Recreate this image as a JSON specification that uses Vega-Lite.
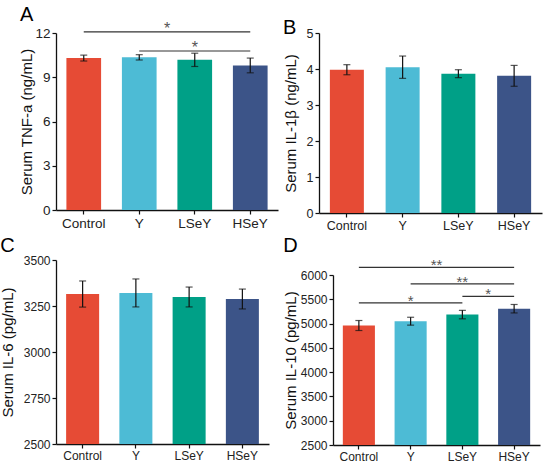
{
  "$schema": "https://vega.github.io/schema/vega-lite/v6.json",
  "padding": {"left": 0, "top": 4, "right": 4, "bottom": 0},
  "config": {
    "font": "Liberation Sans",
    "view": {"stroke": null},
    "axis": {
      "grid": false,
      "domainColor": "#111",
      "domainWidth": 1.3,
      "tickColor": "#111",
      "tickSize": 4,
      "tickWidth": 1.2,
      "labelColor": "#222",
      "labelFontSize": 12,
      "titleColor": "#111",
      "titleFontSize": 15,
      "titleFontWeight": "normal",
      "labelPadding": 2,
      "titlePadding": 4
    },
    "title": {"anchor": "start", "frame": "bounds", "fontSize": 20, "fontWeight": "normal", "color": "#000", "offset": 0}
  },
  "datasets": {
    "bars": [
      {"panel": "A", "group": "Control", "value": 10.30, "err": 0.20},
      {"panel": "A", "group": "Y", "value": 10.35, "err": 0.18},
      {"panel": "A", "group": "LSeY", "value": 10.18, "err": 0.45},
      {"panel": "A", "group": "HSeY", "value": 9.80, "err": 0.50},
      {"panel": "B", "group": "Control", "value": 3.98, "err": 0.14},
      {"panel": "B", "group": "Y", "value": 4.05, "err": 0.31},
      {"panel": "B", "group": "LSeY", "value": 3.87, "err": 0.11},
      {"panel": "B", "group": "HSeY", "value": 3.81, "err": 0.29},
      {"panel": "C", "group": "Control", "value": 3315, "err": 71},
      {"panel": "C", "group": "Y", "value": 3321, "err": 76},
      {"panel": "C", "group": "LSeY", "value": 3299, "err": 54},
      {"panel": "C", "group": "HSeY", "value": 3288, "err": 54},
      {"panel": "D", "group": "Control", "value": 4960, "err": 103},
      {"panel": "D", "group": "Y", "value": 5049, "err": 81},
      {"panel": "D", "group": "LSeY", "value": 5185, "err": 87},
      {"panel": "D", "group": "HSeY", "value": 5306, "err": 87}
    ],
    "sig": [
      {"panel": "A", "id": "A1", "i": 0, "value": 12.07, "label": "*"},
      {"panel": "A", "id": "A1", "i": 3, "value": 12.07, "label": "*"},
      {"panel": "A", "id": "A2", "i": 1, "value": 10.78, "label": "*"},
      {"panel": "A", "id": "A2", "i": 3, "value": 10.78, "label": "*"},
      {"panel": "D", "id": "D1", "i": 0, "value": 6156, "label": "**"},
      {"panel": "D", "id": "D1", "i": 3, "value": 6156, "label": "**"},
      {"panel": "D", "id": "D2", "i": 1, "value": 5818, "label": "**"},
      {"panel": "D", "id": "D2", "i": 3, "value": 5818, "label": "**"},
      {"panel": "D", "id": "D3", "i": 2, "value": 5561, "label": "*"},
      {"panel": "D", "id": "D3", "i": 3, "value": 5561, "label": "*"},
      {"panel": "D", "id": "D4", "i": 0, "value": 5427, "label": "*"},
      {"panel": "D", "id": "D4", "i": 2, "value": 5427, "label": "*"}
    ]
  },
  "columns": 2,
  "align": "none",
  "spacing": {"row": 4, "column": 5},
  "concat": [
    {
      "title": {"text": "A", "fontWeight": "normal", "offset": -4},
      "width": 222,
      "height": 177,
      "encoding": {
        "y": {"field": "value", "type": "quantitative", "scale": {"domain": [0, 12], "nice": false},
          "axis": {"values": [0, 3, 6, 9, 12], "title": "Serum TNF-a (ng/mL)", "labelFontSize": 13.5, "titlePadding": 0}}
      },
      "layer": [
        {
          "data": {"name": "bars"},
          "transform": [{"filter": {"field": "panel", "equal": "A"}}],
          "encoding": {
            "x": {"field": "group", "type": "nominal", "sort": null,
              "scale": {"paddingInner": 0.375, "paddingOuter": 0.1875},
              "axis": {"title": null, "labelAngle": 0, "labelFontSize": 13.5}}
          },
          "layer": [
            {"mark": {"type": "bar", "clip": true},
              "encoding": {"color": {"field": "group", "type": "nominal", "sort": null,
                "scale": {"domain": ["Control", "Y", "LSeY", "HSeY"], "range": ["#E64B35", "#4DBBD5", "#00A087", "#3C5488"]}, "legend": null}}},
            {"mark": {"type": "errorbar", "ticks": {"size": 7}, "color": "#111", "thickness": 1.2},
              "encoding": {"yError": {"field": "err"}}}
          ]
        },
        {
          "data": {"name": "sig"},
          "transform": [{"filter": {"field": "panel", "equal": "A"}}],
          "encoding": {
            "x": {"field": "i", "type": "quantitative", "scale": {"domain": [-0.5, 3.5], "nice": false, "zero": false}, "axis": null}
          },
          "layer": [
            {"mark": {"type": "line", "color": "#333", "strokeWidth": 1.2}, "encoding": {"detail": {"field": "id"}}},
            {"mark": {"type": "text", "color": "#555", "fontSize": 16, "baseline": "alphabetic", "dy": 2},
              "encoding": {
                "x": {"aggregate": "mean", "field": "i", "type": "quantitative"},
                "text": {"field": "label"},
                "detail": {"field": "id"}
              }}
          ]
        }
      ],
      "resolve": {"scale": {"x": "independent"}}
    },
    {
      "title": {"text": "B", "fontWeight": "normal", "offset": -11},
      "width": 223,
      "height": 180,
      "data": {"name": "bars"},
      "transform": [{"filter": {"field": "panel", "equal": "B"}}],
      "encoding": {
        "x": {"field": "group", "type": "nominal", "sort": null,
          "scale": {"paddingInner": 0.39, "paddingOuter": 0.195},
          "axis": {"title": null, "labelAngle": 0, "labelFontSize": 12.5}},
        "y": {"field": "value", "type": "quantitative", "scale": {"domain": [0, 5], "nice": false},
          "axis": {"values": [0, 1, 2, 3, 4, 5], "title": "Serum IL-1β (ng/mL)", "labelFontSize": 12.5, "titlePadding": 8}}
      },
      "layer": [
        {"mark": {"type": "bar", "clip": true},
          "encoding": {"color": {"field": "group", "type": "nominal", "sort": null,
            "scale": {"domain": ["Control", "Y", "LSeY", "HSeY"], "range": ["#E64B35", "#4DBBD5", "#00A087", "#3C5488"]}, "legend": null}}},
        {"mark": {"type": "errorbar", "ticks": {"size": 7}, "color": "#111", "thickness": 1.2},
          "encoding": {"yError": {"field": "err"}}}
      ]
    },
    {
      "title": {"text": "C", "fontWeight": "normal", "offset": -2},
      "width": 213,
      "height": 184,
      "data": {"name": "bars"},
      "transform": [{"filter": {"field": "panel", "equal": "C"}}],
      "encoding": {
        "x": {"field": "group", "type": "nominal", "sort": null,
          "scale": {"paddingInner": 0.38, "paddingOuter": 0.19},
          "axis": {"title": null, "labelAngle": 0}},
        "y": {"field": "value", "type": "quantitative", "scale": {"domain": [2500, 3500], "nice": false, "zero": false},
          "axis": {"values": [2500, 2750, 3000, 3250, 3500], "format": "d", "title": "Serum IL-6 (pg/mL)", "titlePadding": 8}}
      },
      "layer": [
        {"mark": {"type": "bar", "clip": true},
          "encoding": {"color": {"field": "group", "type": "nominal", "sort": null,
            "scale": {"domain": ["Control", "Y", "LSeY", "HSeY"], "range": ["#E64B35", "#4DBBD5", "#00A087", "#3C5488"]}, "legend": null}}},
        {"mark": {"type": "errorbar", "ticks": {"size": 7}, "color": "#111", "thickness": 1.2},
          "encoding": {"yError": {"field": "err"}}}
      ]
    },
    {
      "title": {"text": "D", "fontWeight": "normal", "offset": 2},
      "width": 207,
      "height": 170,
      "encoding": {
        "y": {"field": "value", "type": "quantitative", "scale": {"domain": [2500, 6000], "nice": false, "zero": false},
          "axis": {"values": [2500, 3000, 3500, 4000, 4500, 5000, 5500, 6000], "format": "d", "title": "Serum IL-10 (pg/mL)", "titlePadding": 2}}
      },
      "layer": [
        {
          "data": {"name": "bars"},
          "transform": [{"filter": {"field": "panel", "equal": "D"}}],
          "encoding": {
            "x": {"field": "group", "type": "nominal", "sort": null,
              "scale": {"paddingInner": 0.38, "paddingOuter": 0.19},
              "axis": {"title": null, "labelAngle": 0}}
          },
          "layer": [
            {"mark": {"type": "bar", "clip": true},
              "encoding": {"color": {"field": "group", "type": "nominal", "sort": null,
                "scale": {"domain": ["Control", "Y", "LSeY", "HSeY"], "range": ["#E64B35", "#4DBBD5", "#00A087", "#3C5488"]}, "legend": null}}},
            {"mark": {"type": "errorbar", "ticks": {"size": 7}, "color": "#111", "thickness": 1.2},
              "encoding": {"yError": {"field": "err"}}}
          ]
        },
        {
          "data": {"name": "sig"},
          "transform": [{"filter": {"field": "panel", "equal": "D"}}],
          "encoding": {
            "x": {"field": "i", "type": "quantitative", "scale": {"domain": [-0.5, 3.5], "nice": false, "zero": false}, "axis": null}
          },
          "layer": [
            {"mark": {"type": "line", "color": "#333", "strokeWidth": 1.2}, "encoding": {"detail": {"field": "id"}}},
            {"mark": {"type": "text", "color": "#555", "fontSize": 15, "baseline": "alphabetic", "dy": 3},
              "encoding": {
                "x": {"aggregate": "mean", "field": "i", "type": "quantitative"},
                "text": {"field": "label"},
                "detail": {"field": "id"}
              }}
          ]
        }
      ],
      "resolve": {"scale": {"x": "independent"}}
    }
  ]
}
